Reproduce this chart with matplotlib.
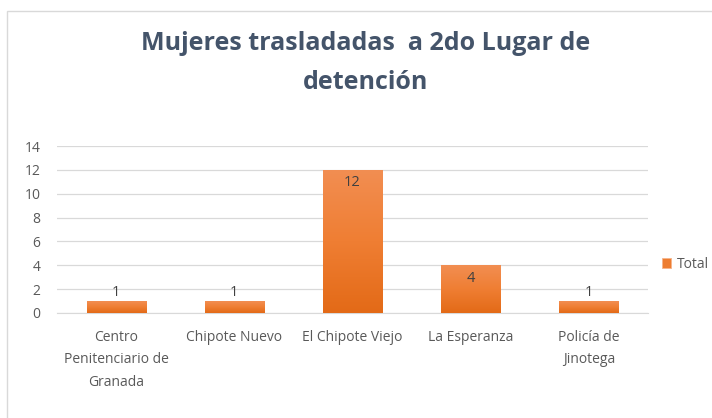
import matplotlib
matplotlib.use("Agg")
import matplotlib.pyplot as plt
import numpy as np
from matplotlib.patches import Rectangle
from matplotlib.colors import LinearSegmentedColormap

categories = ["Centro\nPenitenciario de\nGranada", "Chipote Nuevo", "El Chipote Viejo",
              "La Esperanza", "Policía de\nJinotega"]
values = [1, 1, 12, 4, 1]
series_name = "Total"
title = "Mujeres trasladadas  a 2do Lugar de\ndetención"

plt.rcParams['font.family'] = ['Open Sans', 'DejaVu Sans']

fig = plt.figure(figsize=(7.12, 4.18), dpi=100)
# chart area border
fig.patches.append(Rectangle((7/712, -0.1), 1.0, 1 - 11/418 + 0.1, transform=fig.transFigure,
                             fill=False, edgecolor="#D9D9D9", linewidth=1.0))

ax = fig.add_axes([57/712, 1 - 313/418, (648 - 57)/712, (313 - 146)/418])
x = np.arange(len(categories))
width = 0.5
cmap = LinearSegmentedColormap.from_list("og", ["#E36A17", "#EF7E33", "#F28E52"])
bars = ax.bar(x, values, width=width, color="#ED7D31", label=series_name, zorder=2)
ax.set_xlim(-0.5, len(categories) - 0.5)
ax.set_ylim(0, 14)
for b in bars:
    bx, by = b.get_x(), b.get_y()
    bw, bh = b.get_width(), b.get_height()
    grad = np.linspace(0, 1, 256).reshape(-1, 1)
    im = ax.imshow(grad, cmap=cmap, aspect="auto", origin="lower",
                   extent=[bx, bx + bw, by, by + bh], zorder=3)
    im.set_clip_path(b)
    b.set_edgecolor("#F7B48A")
    b.set_linewidth(0.6)

for xi, v in zip(x, values):
    if v >= 2:
        ax.text(xi, v - 0.45, str(v), ha="center", va="top", fontsize=10.5, color="#404040", zorder=4)
    else:
        ax.text(xi, v + 0.12, str(v), ha="center", va="bottom", fontsize=10.5, color="#404040", zorder=4)

ax.set_yticks(range(0, 15, 2))
ax.yaxis.grid(True, color="#D9D9D9", linewidth=0.9, zorder=0)
ax.set_axisbelow(True)
for s in ["top", "right", "left"]:
    ax.spines[s].set_visible(False)
ax.spines["bottom"].set_color("#D9D9D9")
ax.tick_params(axis="both", length=0, colors="#595959", labelsize=10)
ax.tick_params(axis="y", pad=12)
ax.tick_params(axis="x", pad=12)
ax.set_xticks(x)
ax.set_xticklabels(categories, linespacing=1.7)
for lbl in ax.get_xticklabels():
    lbl.set_color("#595959")

fig.text(366/712, 1 - 63/418, title, ha="center", va="center", fontsize=18,
         fontweight="bold", color="#44546A", linespacing=1.75)

leg = ax.legend(loc="center left", bbox_to_anchor=(649/712, 1 - 264/418), bbox_transform=fig.transFigure,
                frameon=False, fontsize=10, handlelength=0.7, handleheight=0.7, handletextpad=0.4)
for t in leg.get_texts():
    t.set_color("#595959")

fig.savefig("out.png", dpi=100, facecolor="white")
